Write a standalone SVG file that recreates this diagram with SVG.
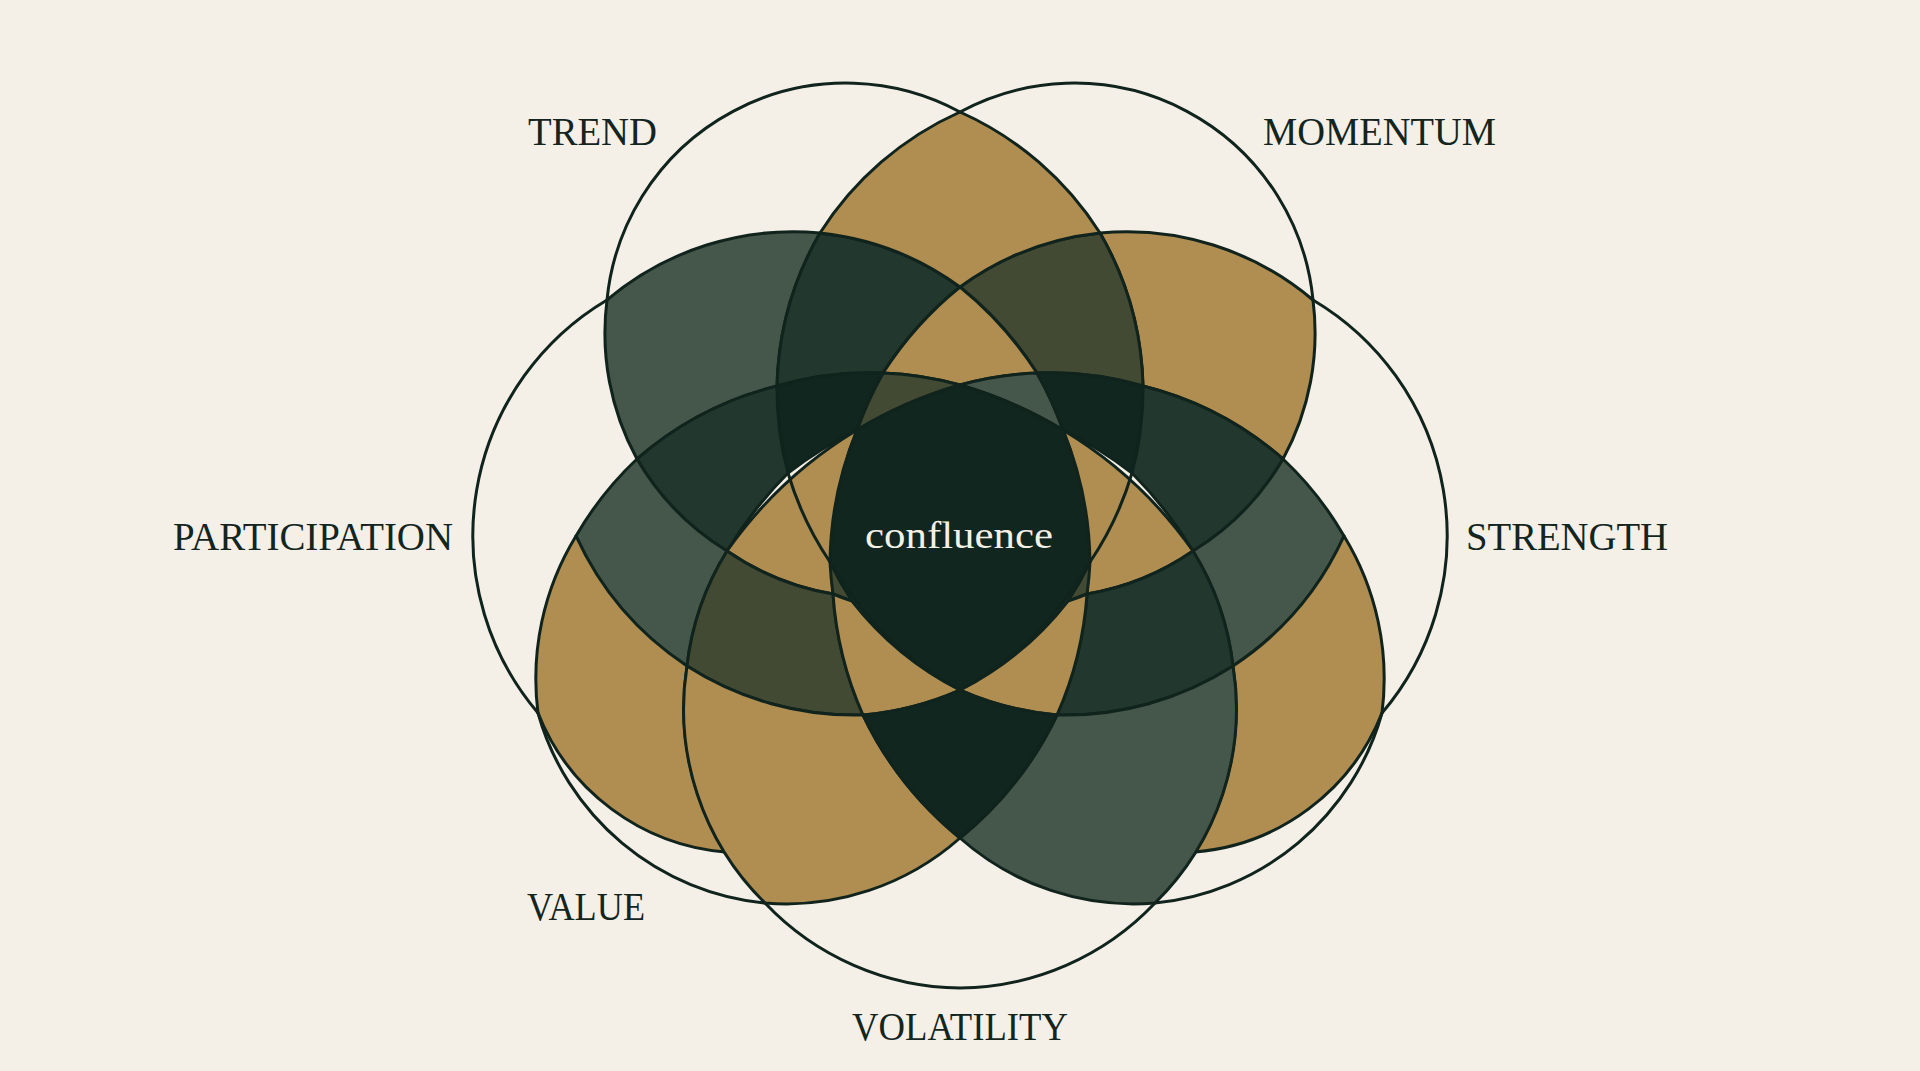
<svg xmlns="http://www.w3.org/2000/svg" xmlns:xlink="http://www.w3.org/1999/xlink" width="1920" height="1071" viewBox="0 0 1920 1071">
<style>
.bg{fill:#F4F0E7}
.rg{stroke:#10241D;stroke-width:3;stroke-linejoin:round}
.ol{fill:none;stroke:#10241D;stroke-width:3;stroke-linecap:round}
.gold{fill:#B08D51}
.lg{fill:#44574A}
.mg{fill:#22372D}
.dg{fill:#10261F}
.olv{fill:#434A34}
.lbl{font-family:"Liberation Serif","Times New Roman",serif;font-size:40px;fill:#13251E}
.conf{font-family:"Liberation Serif","Times New Roman",serif;font-size:38px;fill:#F4F0E6}
</style>
<defs>
<path id="r2" d="M607,300 A288,288 0 0 1 820,233 A321,321 0 0 0 777,386 A336,336 0 0 0 637,459 A263,263 0 0 1 607,300 Z"/>
<path id="r3" d="M820,233 A288,288 0 0 1 960,287 A358,358 0 0 0 883,373 A336,336 0 0 0 777,386 A321,321 0 0 1 820,233 Z"/>
<path id="r5" d="M883,373 A358,358 0 0 0 857,430 A428,428 0 0 1 960,385 A336,336 0 0 0 883,373 Z"/>
<path id="r6" d="M777,386 A336,336 0 0 1 883,373 A358,358 0 0 0 857,430 A428,428 0 0 0 788,473 A321,321 0 0 1 777,386 Z"/>
<path id="r7" d="M637,459 A336,336 0 0 1 777,386 A321,321 0 0 0 788,473 A428,428 0 0 0 727,551 A263,263 0 0 1 637,459 Z"/>
<path id="r8" d="M727,551 A428,428 0 0 1 857,430 A358,358 0 0 0 833,594 A263,263 0 0 1 727,551 Z"/>
<path id="r8l" d="M788,473 A321,321 0 0 0 830,562"/>
<path id="sl" d="M830,562 A358,358 0 0 0 833,594 A263,263 0 0 0 852,601 A321,321 0 0 1 830,562 Z"/>
<path id="r9" d="M637,459 A263,263 0 0 0 727,551 A280,280 0 0 0 687,666 A310,310 0 0 1 576,536 A336,336 0 0 1 637,459 Z"/>
<path id="r10" d="M727,551 A263,263 0 0 0 833,594 A358,358 0 0 0 863,715 A310,310 0 0 1 687,666 A280,280 0 0 1 727,551 Z"/>
<path id="r11" d="M576,536 A273,273 0 0 0 538,713 A221,221 0 0 0 725,852 A272,272 0 0 1 687,666 A310,310 0 0 1 576,536 Z"/>
<path id="r12" d="M687,666 A310,310 0 0 0 863,715 A358,358 0 0 0 960,838 A262,262 0 0 1 765,903 A272,272 0 0 1 687,666 Z"/>
<path id="r13" d="M833,594 A358,358 0 0 0 863,715 A310,310 0 0 0 960,690 A321,321 0 0 1 852,601 A263,263 0 0 1 833,594 Z"/>
<path id="oT" d="M607,300 A240,240 0 0 1 960,112"/>
<path id="oP" d="M607,300 A274,274 0 0 0 538,713"/>
<path id="oV" d="M538,713 A262,262 0 0 0 765,903"/>
</defs>
<rect class="bg" x="0" y="0" width="1920" height="1071"/>
<g id="regions">
<use xlink:href="#r2" class="rg lg"/>
<use xlink:href="#r2" class="rg gold" transform="matrix(-1 0 0 1 1920 0)"/>
<use xlink:href="#r3" class="rg mg"/>
<use xlink:href="#r3" class="rg olv" transform="matrix(-1 0 0 1 1920 0)"/>
<path id="top-lens" class="rg gold" d="M960,112 A321,321 0 0 0 820,233 A288,288 0 0 1 960,287 A288,288 0 0 1 1100,233 A321,321 0 0 0 960,112 Z"/>
<path id="diamond" class="rg gold" d="M960,287 A358,358 0 0 0 883,373 A336,336 0 0 1 960,385 A336,336 0 0 1 1037,373 A358,358 0 0 0 960,287 Z"/>
<use xlink:href="#r5" class="rg olv"/>
<use xlink:href="#r5" class="rg lg" transform="matrix(-1 0 0 1 1920 0)"/>
<use xlink:href="#r6" class="rg dg"/>
<use xlink:href="#r6" class="rg dg" transform="matrix(-1 0 0 1 1920 0)"/>
<use xlink:href="#r7" class="rg mg"/>
<use xlink:href="#r7" class="rg mg" transform="matrix(-1 0 0 1 1920 0)"/>
<use xlink:href="#r8" class="rg gold"/>
<use xlink:href="#r8" class="rg gold" transform="matrix(-1 0 0 1 1920 0)"/>
<use xlink:href="#r8l" class="ol"/>
<use xlink:href="#r8l" class="ol" transform="matrix(-1 0 0 1 1920 0)"/>
<use xlink:href="#sl" class="rg olv"/>
<use xlink:href="#sl" class="rg olv" transform="matrix(-1 0 0 1 1920 0)"/>
<use xlink:href="#r9" class="rg lg"/>
<use xlink:href="#r9" class="rg lg" transform="matrix(-1 0 0 1 1920 0)"/>
<use xlink:href="#r10" class="rg olv"/>
<use xlink:href="#r10" class="rg mg" transform="matrix(-1 0 0 1 1920 0)"/>
<use xlink:href="#r11" class="rg gold"/>
<use xlink:href="#r11" class="rg gold" transform="matrix(-1 0 0 1 1920 0)"/>
<use xlink:href="#r12" class="rg gold"/>
<use xlink:href="#r12" class="rg lg" transform="matrix(-1 0 0 1 1920 0)"/>
<use xlink:href="#r13" class="rg gold"/>
<use xlink:href="#r13" class="rg gold" transform="matrix(-1 0 0 1 1920 0)"/>
<path id="bottom-lens" class="rg dg" d="M863,715 A310,310 0 0 0 960,690 A310,310 0 0 0 1057,715 A358,358 0 0 1 960,838 A358,358 0 0 1 863,715 Z"/>
</g>
<g id="confluence">
<path class="rg dg" d="M857,430 A428,428 0 0 1 960,385 A428,428 0 0 1 1063,430 A358,358 0 0 1 1090,562 A321,321 0 0 1 960,690 A321,321 0 0 1 830,562 A358,358 0 0 1 857,430 Z"/>
<text class="conf" x="865" y="548" textLength="188" lengthAdjust="spacingAndGlyphs">confluence</text>
</g>
<g id="trend">
<use xlink:href="#oT" class="ol"/>
<text class="lbl" x="528" y="145" textLength="129" lengthAdjust="spacingAndGlyphs">TREND</text>
</g>
<g id="momentum">
<use xlink:href="#oT" class="ol" transform="matrix(-1 0 0 1 1920 0)"/>
<text class="lbl" x="1263" y="145" textLength="233" lengthAdjust="spacingAndGlyphs">MOMENTUM</text>
</g>
<g id="participation">
<use xlink:href="#oP" class="ol"/>
<text class="lbl" x="173" y="550" textLength="280" lengthAdjust="spacingAndGlyphs">PARTICIPATION</text>
</g>
<g id="strength">
<use xlink:href="#oP" class="ol" transform="matrix(-1 0 0 1 1920 0)"/>
<text class="lbl" x="1466" y="550" textLength="202" lengthAdjust="spacingAndGlyphs">STRENGTH</text>
</g>
<g id="value">
<use xlink:href="#oV" class="ol"/>
<use xlink:href="#oV" class="ol" transform="matrix(-1 0 0 1 1920 0)"/>
<text class="lbl" x="527" y="920" textLength="118" lengthAdjust="spacingAndGlyphs">VALUE</text>
</g>
<g id="volatility">
<path class="ol" d="M765,903 A272,272 0 0 0 960,988 A272,272 0 0 0 1155,903"/>
<text class="lbl" x="852" y="1040" textLength="216" lengthAdjust="spacingAndGlyphs">VOLATILITY</text>
</g>
</svg>
